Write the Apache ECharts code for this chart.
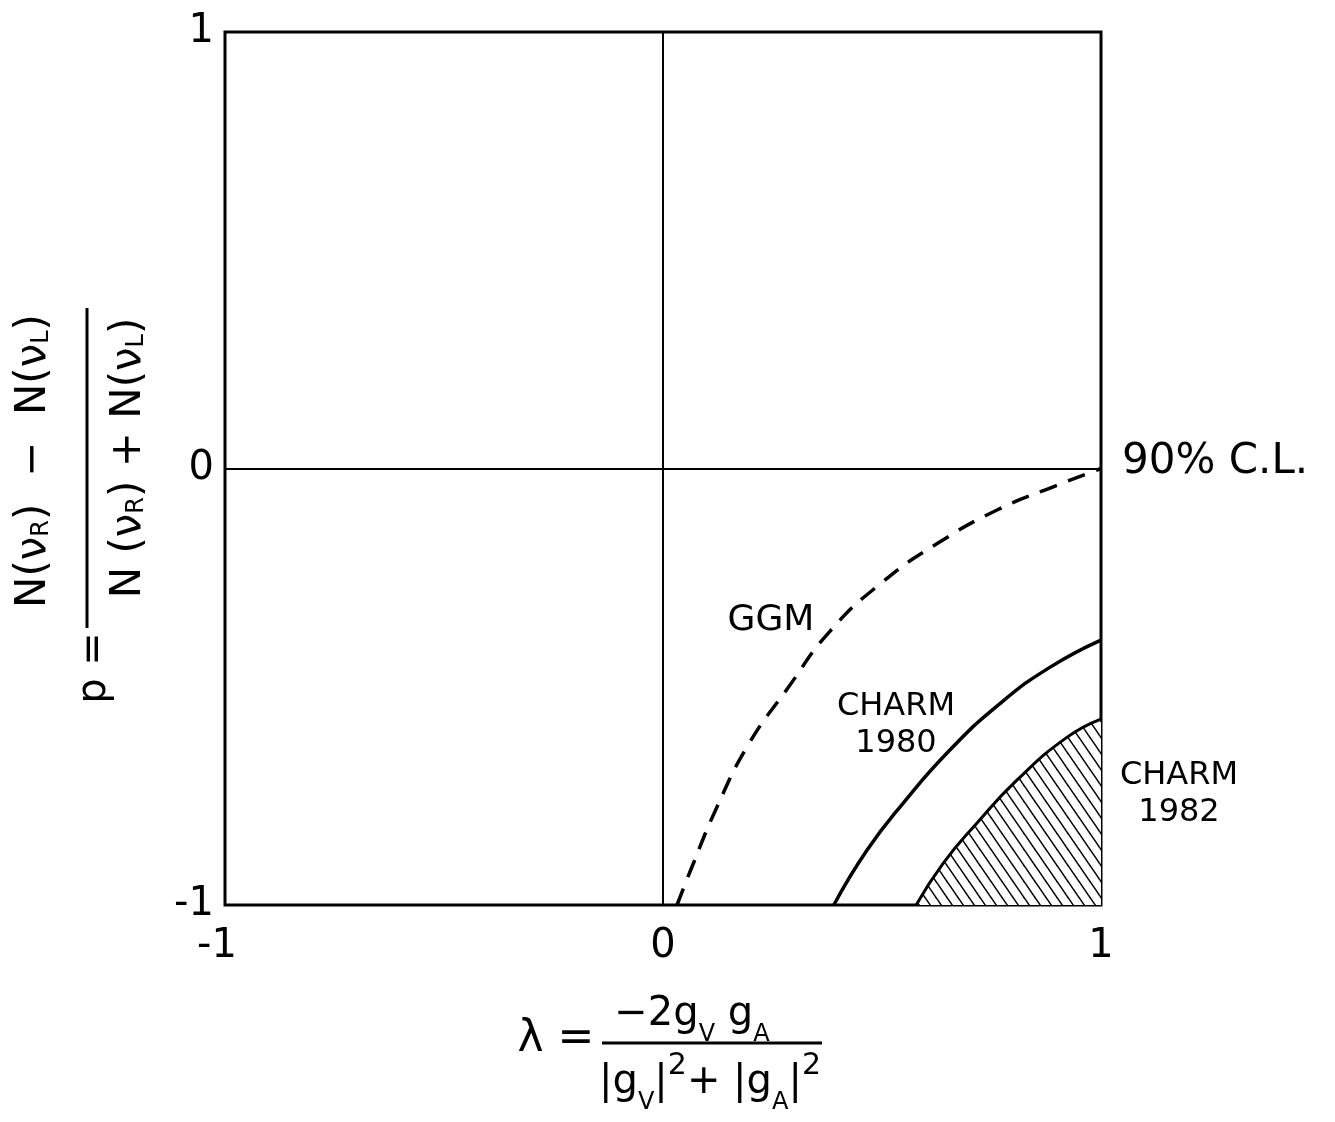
<!DOCTYPE html>
<html>
<head>
<meta charset="utf-8">
<script src="https://cdn.jsdelivr.net/npm/echarts@6/dist/echarts.min.js"></script>
<style>
  html, body { margin: 0; padding: 0; background: #fff; }
  #chart { width: 1335px; height: 1122px; }
</style>
</head>
<body>
<div id="chart"></div>
<script>
// ---- data ----
const xTickLabels = ['-1', '0', '1'];
const yTickLabels = ['-1', '0', '1'];

const ggmX = [0.032, 0.066, 0.123, 0.194, 0.285, 0.381, 0.5, 0.626, 0.765, 0.888, 1.0];
const ggmY = [-1.0, -0.913, -0.776, -0.634, -0.503, -0.373, -0.261, -0.172, -0.094, -0.043, 0.0];

const charm80X = [0.39, 0.466, 0.548, 0.655, 0.77, 0.884, 1.0];
const charm80Y = [-1.0, -0.874, -0.767, -0.645, -0.538, -0.455, -0.393];

const charm82X = [0.578, 0.64, 0.717, 0.808, 0.922, 1.0];
const charm82Y = [-1.0, -0.904, -0.812, -0.714, -0.616, -0.574];

const labelGGM = 'GGM';
const label80 = 'CHARM\n1980';
const label82 = 'CHARM\n1982';
const labelCL = '90% C.L.';

function pairs(xs, ys) { return xs.map((x, i) => [x, ys[i]]); }

// hatch pattern
const pc = document.createElement('canvas');
pc.width = 11; pc.height = 16;
const pctx = pc.getContext('2d');
pctx.fillStyle = '#fff';
pctx.fillRect(0, 0, 11, 16);
pctx.strokeStyle = '#000';
pctx.lineWidth = 1.5;
[-11, 0, 11].forEach(function (k) {
  pctx.beginPath();
  pctx.moveTo(k - 2.75, -4);
  pctx.lineTo(k + 13.75, 20);
  pctx.stroke();
});

const FONT = 'DejaVu Sans';
const chart = echarts.init(document.getElementById('chart'), null, { renderer: 'canvas' });

const mainRich = {
  m: { fontSize: 42, fontFamily: FONT, lineHeight: 40, color: '#000' },
  s: { fontSize: 24, fontFamily: FONT, lineHeight: 24, verticalAlign: 'bottom', color: '#000' }
};
const xRich = {
  m: { fontSize: 40, fontFamily: FONT, lineHeight: 64, color: '#000' },
  s: { fontSize: 24, fontFamily: FONT, lineHeight: 24, verticalAlign: 'bottom', color: '#000' },
  p: { fontSize: 30, fontFamily: FONT, lineHeight: 26, verticalAlign: 'top', color: '#000' }
};

const option = {
  animation: false,
  backgroundColor: '#fff',
  grid: {
    left: 225, top: 32, width: 876, height: 873,
    show: true, borderColor: '#000', borderWidth: 3, backgroundColor: 'transparent'
  },
  xAxis: {
    type: 'value', min: -1, max: 1, interval: 1,
    axisLine: { show: false, onZero: false },
    axisTick: { show: false },
    splitLine: { show: true, lineStyle: { color: '#000', width: 2 } },
    axisLabel: {
      fontSize: 40, fontFamily: FONT, color: '#000', margin: 22,
      rich: { neg: { fontSize: 40, fontFamily: FONT, color: '#000', padding: [0, 16, 0, 0] } },
      formatter: function (v) {
        const t = xTickLabels[Math.round(v) + 1];
        return v < 0 ? '{neg|' + t + '}' : t;
      }
    }
  },
  yAxis: {
    type: 'value', min: -1, max: 1, interval: 1,
    axisLine: { show: false, onZero: false },
    axisTick: { show: false },
    splitLine: { show: true, lineStyle: { color: '#000', width: 2 } },
    axisLabel: {
      fontSize: 40, fontFamily: FONT, color: '#000', margin: 11,
      formatter: function (v) { return yTickLabels[Math.round(v) + 1]; }
    }
  },
  series: [
    {
      type: 'line', name: 'GGM', data: pairs(ggmX, ggmY), smooth: 0.5,
      symbol: 'none', clip: true,
      lineStyle: { color: '#000', width: 3.5, type: [18, 12] }
    },
    {
      type: 'line', name: 'CHARM 1980', data: pairs(charm80X, charm80Y), smooth: 0.5,
      symbol: 'none', clip: true,
      lineStyle: { color: '#000', width: 3.5 }
    },
    {
      type: 'line', name: 'CHARM 1982', data: pairs(charm82X, charm82Y), smooth: 0.5,
      symbol: 'none', clip: true,
      lineStyle: { color: '#000', width: 3 },
      areaStyle: { origin: 'start', opacity: 1, color: { image: pc, repeat: 'repeat' } }
    }
  ],
  graphic: [
    { type: 'text', x: 771, y: 621, style: { text: labelGGM, fontSize: 36, fontFamily: FONT, fill: '#000', align: 'center', verticalAlign: 'middle' } },
    { type: 'text', x: 896, y: 725, style: { text: label80, fontSize: 32, lineHeight: 37, fontFamily: FONT, fill: '#000', align: 'center', verticalAlign: 'middle' } },
    { type: 'text', x: 1179, y: 794, style: { text: label82, fontSize: 32, lineHeight: 37, fontFamily: FONT, fill: '#000', align: 'center', verticalAlign: 'middle' } },
    { type: 'text', x: 1122, y: 462, style: { text: labelCL, fontSize: 42, fontFamily: FONT, fill: '#000', align: 'left', verticalAlign: 'middle' } },

    // y-axis title (rotated fraction)
    { type: 'text', x: 34, y: 461, rotation: Math.PI / 2,
      style: { text: '{m|N(ν}{s|R}{m|)  −  N(ν}{s|L}{m|)}', rich: mainRich, fill: '#000', align: 'center', verticalAlign: 'middle' } },
    { type: 'line', shape: { x1: 87, y1: 308, x2: 87, y2: 628 }, style: { stroke: '#000', lineWidth: 3 } },
    { type: 'text', x: 129, y: 458, rotation: Math.PI / 2,
      style: { text: '{m|N (ν}{s|R}{m|) + N(ν}{s|L}{m|)}', rich: mainRich, fill: '#000', align: 'center', verticalAlign: 'middle' } },
    { type: 'text', x: 95, y: 668, rotation: Math.PI / 2,
      style: { text: 'p =', fontSize: 40, fontFamily: FONT, fill: '#000', align: 'center', verticalAlign: 'middle' } },

    // x-axis title
    { type: 'text', x: 556, y: 1040,
      style: { text: 'λ =', fontSize: 44, fontFamily: FONT, fill: '#000', align: 'center', verticalAlign: 'middle' } },
    { type: 'line', shape: { x1: 602, y1: 1043, x2: 822, y2: 1043 }, style: { stroke: '#000', lineWidth: 3 } },
    { type: 'text', x: 692, y: 1015,
      style: { text: '{m|−2g}{s|V}{m| g}{s|A}', rich: xRich, fill: '#000', align: 'center', verticalAlign: 'middle' } },
    { type: 'text', x: 710, y: 1083,
      style: { text: '{m||g}{s|V}{m||}{p|2}{m|+ |g}{s|A}{m||}{p|2}', rich: xRich, fill: '#000', align: 'center', verticalAlign: 'middle' } }
  ]
};
chart.setOption(option);
</script>
</body>
</html>
